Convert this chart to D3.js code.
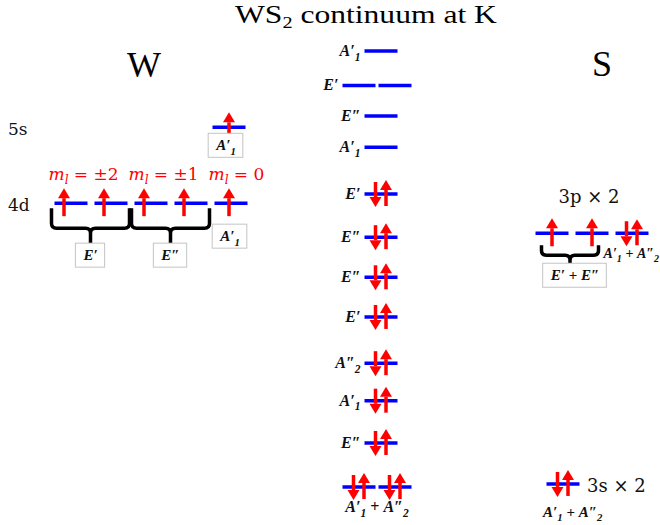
<!DOCTYPE html>
<html>
<head>
<meta charset="utf-8">
<script src="https://cdn.jsdelivr.net/npm/d3@7"></script>
<style>
  body { margin: 0; background: #fff; }
</style>
</head>
<body>
<script>
// energies in arbitrary units, 0 = lowest continuum level
var centerLabels = ["A'1", "E'", "E''", "A'1", "E'", "E''", "E''", "E'", "A''2", "A'1", "E''", "A'1 + A''2"];
var centerEnergy = [10, 9.21, 8.51, 7.79, 6.72, 5.73, 4.81, 3.90, 2.84, 1.98, 1.01, 0];
var centerOrbitals = [1, 2, 1, 1, 1, 1, 1, 1, 1, 1, 1, 2];
var centerElectrons = [0, 0, 0, 0, 2, 2, 2, 2, 2, 2, 2, 2];   // per orbital

var wShells = ["5s", "4d"];
var wEnergy = [8.25, 6.51];
var mlLabels = ["\u00b12", "\u00b11", "0"];
var mlGroupSize = [2, 2, 1];
var mlSymmetry = ["E'", "E''", "A'1"];

var sShells = ["3p \u00d7 2", "3s \u00d7 2"];
var sEnergy = [5.82, 0.07];
var p3Groups = ["E' + E''", "A'1 + A''2"];
var p3GroupSize = [2, 1];
var p3Electrons = [1, 2];
var s3Label = "A'1 + A''2";

var width = 660, height = 525;
var barW = 33;
var blue = '#0000ff', red = '#ff0000';
var serif = '"Liberation Serif", "Times New Roman", serif';
var cambria = '"DejaVu Serif", serif';

var svg = d3.select('body').append('svg')
    .attr('width', width)
    .attr('height', height)
    .attr('font-family', serif);

var y = d3.scaleLinear().domain([0, 10]).range([487, 51]);

// stretch a text horizontally to the width seen in the picture
function stretch(t, x, w) {
    var bw = t.node().getBBox().width;
    t.attr('transform', 'translate(' + x + ',0) scale(' + (w / bw) + ',1) translate(' + (-x) + ',0)');
}

// writes a symmetry label like A'1 + A''2 into a text element
function sym(text, str, size) {
    var back = 0;
    str.split(' + ').forEach(function (t, i) {
        if (i > 0) {
            text.append('tspan').attr('dy', back).attr('font-style', 'normal').text(' + ');
            back = 0;
        }
        var m = t.match(/^([A-Z])('*)(\d?)$/);
        text.append('tspan').attr('dy', back).text(m[1]);
        back = 0;
        if (m[2]) {
            text.append('tspan').text(m[2].length === 2 ? '\u2033' : '\u2032');
        }
        if (m[3]) {
            text.append('tspan')
                .attr('dy', size * 0.3)
                .attr('font-size', size * 0.72)
                .text(m[3]);
            back = -size * 0.3;
        }
    });
}

function symText(g, x, yb, str, anchor, size) {
    size = size || 16;
    var t = g.append('text')
        .attr('x', x).attr('y', yb)
        .attr('text-anchor', anchor || 'start')
        .attr('font-size', size)
        .attr('font-weight', 'bold')
        .attr('font-style', 'italic')
        .attr('fill', '#111');
    sym(t, str, size);
    return t;
}

function boxLabel(g, cx, top, str) {
    var t = symText(g, cx, top + 17, str, 'middle', 15);
    var bb = t.node().getBBox();
    g.insert('rect', function () { return t.node(); })
        .attr('x', bb.x - 7).attr('y', top)
        .attr('width', bb.width + 14).attr('height', 24)
        .attr('fill', '#fff')
        .attr('stroke', '#c4c4c4')
        .attr('stroke-width', 1);
}

function bar(g, cx, yy) {
    g.append('line')
        .attr('x1', cx - barW / 2).attr('x2', cx + barW / 2)
        .attr('y1', yy).attr('y2', yy)
        .attr('stroke', blue)
        .attr('stroke-width', 3.5);
}

function arrow(g, x, from, to) {
    var dir = to < from ? -1 : 1;
    var head = 10;
    g.append('line')
        .attr('x1', x).attr('x2', x)
        .attr('y1', from).attr('y2', to - dir * head)
        .attr('stroke', red)
        .attr('stroke-width', 3.5);
    g.append('path')
        .attr('d', 'M' + (x - 6) + ',' + (to - dir * head) + 'L' + (x + 6) + ',' + (to - dir * head) + 'L' + x + ',' + to + 'Z')
        .attr('fill', red);
}

function electrons(g, cx, yy, n, off) {
    if (n === 1) {
        arrow(g, cx + (off || 0), yy + 13, yy - 15);
    } else if (n === 2) {
        arrow(g, cx - 5.5, yy - 12, yy + 13);
        arrow(g, cx + 5, yy + 12, yy - 14);
    }
}

function brace(g, x1, x2, top, bottom, stemEnd) {
    var xm = (x1 + x2) / 2, r = 5;
    g.append('path')
        .attr('d', 'M' + x1 + ',' + top + 'V' + (bottom - r) +
            'Q' + x1 + ',' + bottom + ' ' + (x1 + r) + ',' + bottom +
            'H' + (xm - r) + 'Q' + xm + ',' + bottom + ' ' + xm + ',' + (bottom + r) +
            'V' + stemEnd +
            'M' + x2 + ',' + top + 'V' + (bottom - r) +
            'Q' + x2 + ',' + bottom + ' ' + (x2 - r) + ',' + bottom +
            'H' + (xm + r) + 'Q' + xm + ',' + bottom + ' ' + xm + ',' + (bottom + r))
        .attr('fill', 'none')
        .attr('stroke', '#000')
        .attr('stroke-width', 3.5);
}

// title
var title = svg.append('text')
    .attr('x', 235).attr('y', 23)
    .attr('font-size', 25);
title.append('tspan').text('WS');
title.append('tspan').attr('dy', 5).attr('font-size', 16).text('2');
title.append('tspan').attr('dy', -5).text(' continuum at K');
stretch(title, 235, 262);

svg.append('text').attr('x', 144).attr('y', 77).attr('text-anchor', 'middle')
    .attr('font-size', 36).text('W');
svg.append('text').attr('x', 602).attr('y', 76).attr('text-anchor', 'middle')
    .attr('font-size', 36).text('S');

// ---- W column
var wg = svg.append('g');
wShells.forEach(function (s, i) {
    wg.append('text').attr('x', 8).attr('y', y(wEnergy[i]) + 8)
        .attr('font-family', cambria)
        .attr('font-size', 17).attr('fill', '#111').text(s);
});

var y5s = y(wEnergy[0]);
bar(wg, 229, y5s);
electrons(wg, 229, y5s, 1);
boxLabel(wg, 226, y5s + 6, "A'1");

var y4d = y(wEnergy[1]);
var dX = 71, dStep = 40, k = 0;
mlLabels.forEach(function (ml, gi) {
    var first = dX + k * dStep;
    var last = first + (mlGroupSize[gi] - 1) * dStep;
    var ml_t = wg.append('text')
        .attr('x', first - barW / 2 - 6).attr('y', y4d - 23)
        .attr('font-family', cambria)
        .attr('font-size', 17).attr('fill', red);
    ml_t.append('tspan').attr('font-style', 'italic').text('m');
    ml_t.append('tspan').attr('font-style', 'italic').attr('font-size', 12).attr('dy', 4).text('l');
    ml_t.append('tspan').attr('dy', -4).text(' = ' + ml);
    for (var j = 0; j < mlGroupSize[gi]; j++) {
        var cx = dX + (k + j) * dStep;
        bar(wg, cx, y4d);
        electrons(wg, cx, y4d, 1, mlGroupSize[gi] > 1 ? -7 : -2);
    }
    if (mlGroupSize[gi] > 1) {
        var bx1 = first - barW / 2 - 3, bx2 = last + barW / 2 + 2;
        brace(wg, bx1, bx2, y4d + 5, y4d + 25, y4d + 40);
        boxLabel(wg, (bx1 + bx2) / 2, y4d + 40, mlSymmetry[gi]);
    } else {
        boxLabel(wg, first - 1, y4d + 21, mlSymmetry[gi]);
    }
    k += mlGroupSize[gi];
});

// ---- continuum column
var cg = svg.append('g');
var cX = 381, pairX = 377;
centerLabels.forEach(function (lab, i) {
    var yy = y(centerEnergy[i]);
    var xs = centerOrbitals[i] === 2 ? [pairX - 18, pairX + 18] : [cX];
    xs.forEach(function (cx) {
        bar(cg, cx, yy);
        electrons(cg, cx, yy, centerElectrons[i]);
    });
    if (centerOrbitals[i] === 2 && centerElectrons[i] > 0) {
        symText(cg, pairX, yy + 25, lab, 'middle');
    } else {
        symText(cg, xs[0] - barW / 2 - 4, yy + 5, lab, 'end');
    }
});

// ---- S column
var sg = svg.append('g');
var y3p = y(sEnergy[0]);
sg.append('text').attr('x', 589).attr('y', y3p - 30).attr('text-anchor', 'middle')
    .attr('font-family', cambria)
    .attr('font-size', 18).attr('fill', '#111').text(sShells[0]);
var pX = 552, pStep = 40, pk = 0;
p3Groups.forEach(function (lab, gi) {
    var first = pX + pk * pStep;
    var last = first + (p3GroupSize[gi] - 1) * pStep;
    for (var j = 0; j < p3GroupSize[gi]; j++) {
        var cx = pX + (pk + j) * pStep;
        bar(sg, cx, y3p);
        electrons(sg, cx, y3p, p3Electrons[gi]);
    }
    if (p3GroupSize[gi] > 1) {
        var bx1 = first - barW / 2 + 6, bx2 = last + barW / 2 - 10;
        brace(sg, bx1, bx2, y3p + 12, y3p + 22, y3p + 30);
        boxLabel(sg, (bx1 + bx2) / 2 + 5, y3p + 30, lab);
    } else {
        symText(sg, 659, y3p + 25, lab, 'end', 14);
    }
    pk += p3GroupSize[gi];
});

var y3s = y(sEnergy[1]);
bar(sg, 563, y3s);
electrons(sg, 563, y3s, 2);
sg.append('text').attr('x', 587).attr('y', y3s + 8)
    .attr('font-family', cambria)
    .attr('font-size', 18).attr('fill', '#111').text(sShells[1]);
symText(sg, 543, y3s + 33, s3Label, 'start', 15);
</script>
</body>
</html>
